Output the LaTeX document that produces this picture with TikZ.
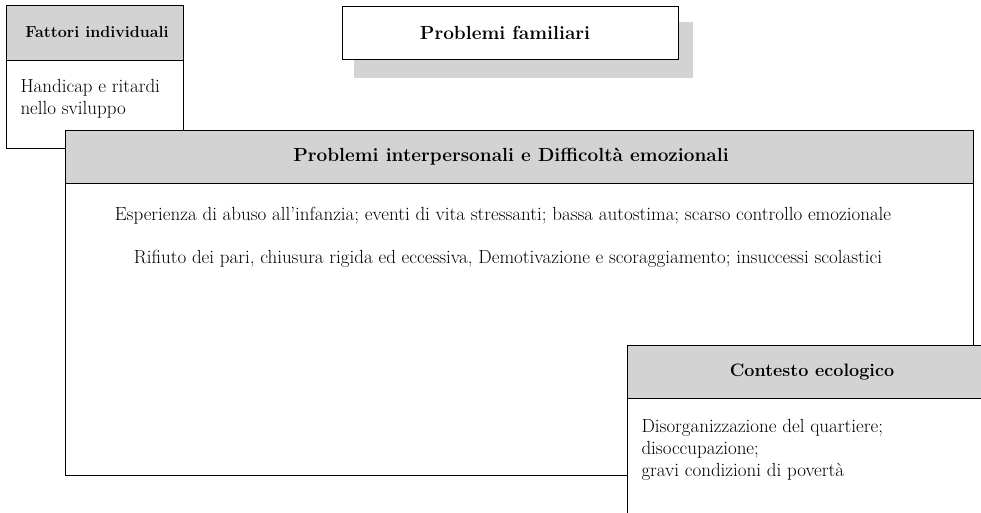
\documentclass[tikz,border=0pt]{standalone}
\usepackage{fontspec}
\usetikzlibrary{positioning,calc}
\definecolor{boxgray}{HTML}{D3D3D3}

\begin{document}
\begin{tikzpicture}[x=1pt,y=-1pt,inner sep=0pt,line width=1pt,
  box/.style={draw,rectangle,anchor=north west,fill=white},
  headbox/.style={draw,rectangle,anchor=north west,fill=boxgray},
  title/.style={font=\fontsize{19}{22}\selectfont\bfseries},
  body/.style={font=\fontsize{19}{22}\selectfont,align=left}]
\clip (0,0) rectangle (981,512);
\fill [white] (0,0) rectangle (981,512);
% fattori individuali
\node [box,minimum width=177pt,minimum height=143pt] (fattori) at (6,5) {};
\node [headbox,minimum width=177pt,minimum height=55pt] (fattoriHead) at (6,5) {};
\node [title,font=\fontsize{16}{20}\selectfont\bfseries] (fattoriTitle) at (97,32) {Fattori individuali};
\node [body,anchor=north west] (fattoriText) at (20,79) {Handicap e ritardi\\nello sviluppo};
% problemi familiari, with its shadow
\node [rectangle,fill=boxgray,anchor=north west,minimum width=339pt,minimum height=56pt] (famigliaOmbra) at (353,21) {};
\node [box,minimum width=336pt,minimum height=53pt] (famiglia) at (342,6) {};
\node [title] (famigliaTitle) at (505,33) {Problemi familiari};
% problemi interpersonali
\node [box,minimum width=908pt,minimum height=345pt] (interp) at (65,130) {};
\node [headbox,minimum width=908pt,minimum height=53pt] (interpHead) at (65,130) {};
\node [title] (interpTitle) at (511,157) {Problemi interpersonali e Difficoltà emozionali};
\node [body] (interpRiga1) at (503,216) {Esperienza di abuso all’infanzia; eventi di vita stressanti; bassa autostima; scarso controllo emozionale};
\node [body] (interpRiga2) at (508,259) {Rifiuto dei pari, chiusura rigida ed eccessiva, Demotivazione e scoraggiamento; insuccessi scolastici};
% contesto ecologico
\node [box,minimum width=370pt,minimum height=190pt] (contesto) at (627,345) {};
\node [headbox,minimum width=370pt,minimum height=53pt] (contestoHead) at (627,345) {};
\node [title,font=\fontsize{18}{22}\selectfont\bfseries] (contestoTitle) at (812,372) {Contesto ecologico};
\node [body,anchor=north west] (contestoText) at (641,419) {Disorganizzazione del quartiere;\\disoccupazione;\\gravi condizioni di povertà};
\end{tikzpicture}
\end{document}
